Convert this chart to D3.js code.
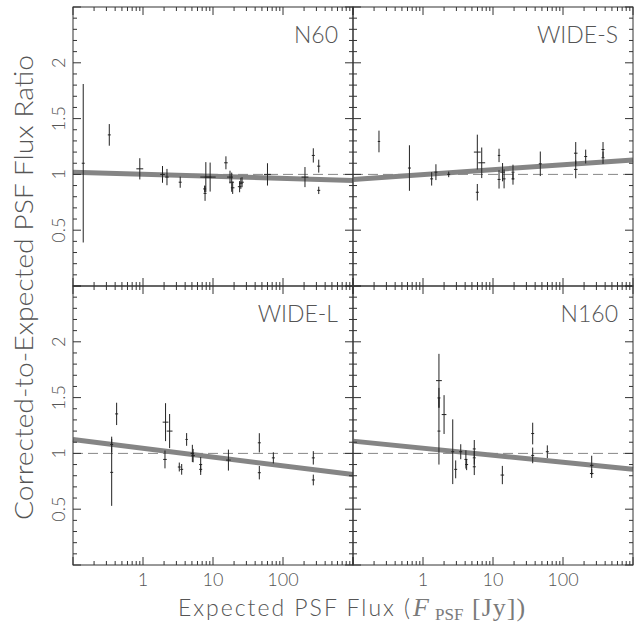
<!DOCTYPE html>
<html><head><meta charset="utf-8">
<script src="https://cdn.jsdelivr.net/npm/d3@7"></script>
<style>body{margin:0;background:#fff;}</style>
</head><body>
<script>
// ---------- data ----------
const panelNames = ["N60", "WIDE-S", "WIDE-L", "N160"];
const xTickLabels = ["1", "10", "100"];
const xTickValues = [1, 10, 100];
const yTickLabels = ["0.5", "1", "1.5", "2"];
const yTickValues = [0.5, 1, 1.5, 2];

const n60Flux  = [0.14, 0.33, 0.9, 1.9, 2.2, 3.4, 7.6, 7.7, 7.9, 9.1, 15.3, 17.5, 18.5, 19.1, 24.0, 25.0, 26.0, 60, 206, 271, 324, 324];
const n60Ratio = [1.10, 1.354, 1.05, 1.0, 0.976, 0.93, 0.87, 0.83, 0.976, 0.976, 1.104, 0.976, 0.93, 0.88, 0.89, 0.92, 0.93, 1.0, 0.976, 1.17, 1.074, 0.857];
const n60Err   = [0.71, 0.097, 0.095, 0.075, 0.073, 0.05, 0.03, 0.067, 0.134, 0.13, 0.058, 0.057, 0.086, 0.055, 0.05, 0.05, 0.045, 0.1, 0.09, 0.064, 0.058, 0.033];
const n60FluxErr = [0.05, 0.05, 0.12, 0.08, 0.06, 0.05, 0.05, 0.05, 0.2, 0.2, 0.06, 0.1, 0.08, 0.06, 0.06, 0.06, 0.06, 0.12, 0.12, 0.05, 0.05, 0.05];

const wsFlux  = [0.235, 0.64, 1.33, 1.53, 2.33, 5.97, 5.97, 6.9, 12.2, 12.2, 13.7, 14.4, 19.3, 19.3, 47.4, 152, 152, 211, 373, 373];
const wsRatio = [1.295, 1.057, 0.96, 1.02, 1.0, 1.2, 0.84, 1.104, 1.17, 0.955, 1.02, 0.96, 1.02, 0.96, 1.095, 1.19, 1.045, 1.16, 1.223, 1.149];
const wsErr   = [0.097, 0.204, 0.06, 0.071, 0.025, 0.156, 0.074, 0.137, 0.06, 0.082, 0.082, 0.085, 0.067, 0.052, 0.11, 0.1, 0.08, 0.062, 0.067, 0.055];
const wsFluxErr = [0.04, 0.05, 0.05, 0.05, 0.05, 0.12, 0.05, 0.12, 0.04, 0.05, 0.08, 0.05, 0.05, 0.05, 0.05, 0.06, 0.06, 0.05, 0.05, 0.05];

const wlFlux  = [0.357, 0.357, 0.42, 2.1, 2.4, 2.06, 3.3, 3.57, 4.2, 5.07, 5.2, 6.67, 6.67, 16.6, 45.9, 45.9, 72.8, 271, 271];
const wlRatio = [1.08, 0.83, 1.354, 1.28, 1.2, 0.946, 0.878, 0.857, 1.125, 1.0, 0.98, 0.9, 0.857, 0.94, 1.095, 0.827, 0.96, 0.96, 0.762];
const wlErr   = [0.07, 0.3, 0.1, 0.17, 0.153, 0.08, 0.04, 0.048, 0.057, 0.077, 0.06, 0.067, 0.05, 0.094, 0.086, 0.06, 0.05, 0.06, 0.048];
const wlFluxErr = [0.05, 0.05, 0.05, 0.1, 0.1, 0.06, 0.05, 0.05, 0.04, 0.06, 0.06, 0.05, 0.05, 0.08, 0.05, 0.05, 0.05, 0.05, 0.05];

const n160Flux  = [1.69, 1.69, 1.69, 2.0, 2.66, 2.93, 3.46, 4.1, 4.2, 5.4, 5.4, 5.4, 13.6, 36.9, 36.9, 59.7, 257, 257];
const n160Ratio = [1.652, 1.497, 1.2, 1.348, 1.015, 0.857, 1.015, 0.946, 0.9, 1.04, 0.96, 0.88, 0.806, 1.178, 0.982, 1.015, 0.893, 0.82];
const n160Err   = [0.24, 0.09, 0.3, 0.174, 0.29, 0.08, 0.067, 0.082, 0.05, 0.08, 0.06, 0.074, 0.082, 0.097, 0.07, 0.057, 0.086, 0.04];
const n160FluxErr = [0.1, 0.05, 0.05, 0.08, 0.05, 0.05, 0.05, 0.05, 0.05, 0.05, 0.05, 0.05, 0.06, 0.05, 0.05, 0.05, 0.06, 0.06];

// fitted relation: ratio at F = 0.1 Jy and at F = 1000 Jy
const fitFlux = [0.1, 1000];
const fitStart = [1.02, 0.955, 1.125, 1.11];
const fitEnd   = [0.946, 1.13, 0.81, 0.857];

// ---------- layout ----------
const W = 641, H = 625;
const L = 73, M = 353, R = 633, T = 7, MY = 286, B = 565;
const panels = [
  {x0: L, x1: M, y0: T, y1: MY, flux: n60Flux, ratio: n60Ratio, err: n60Err, ferr: n60FluxErr},
  {x0: M, x1: R, y0: T, y1: MY, flux: wsFlux, ratio: wsRatio, err: wsErr, ferr: wsFluxErr},
  {x0: L, x1: M, y0: MY, y1: B, flux: wlFlux, ratio: wlRatio, err: wlErr, ferr: wlFluxErr},
  {x0: M, x1: R, y0: MY, y1: B, flux: n160Flux, ratio: n160Ratio, err: n160Err, ferr: n160FluxErr}
];

const svg = d3.select("body").append("svg").attr("width", W).attr("height", H)
  .style("font-family", "Lato, 'Liberation Sans', Arial, sans-serif")
  .style("font-weight", 300);

const textCol = "#555";
const frameCol = "#333";
const serif = "'Liberation Serif', 'DejaVu Serif', serif";

panels.forEach((p, i) => {
  const x = d3.scaleLog().domain([0.1, 1000]).range([p.x0, p.x1]);
  const y = d3.scaleLinear().domain([0, 2.5]).range([p.y1, p.y0]);
  const g = svg.append("g");

  // dashed reference line at 1
  g.append("line").attr("x1", p.x0).attr("x2", p.x1).attr("y1", y(1)).attr("y2", y(1))
    .attr("stroke", "#888").attr("stroke-width", 1).attr("stroke-dasharray", "10,5");

  // fit line
  const line = d3.line().x(d => x(d[0])).y(d => y(d[1]));
  g.append("path").datum([[fitFlux[0], fitStart[i]], [fitFlux[1], fitEnd[i]]])
    .attr("d", line).attr("fill", "none").attr("stroke", "#858585").attr("stroke-width", 5);

  // points with error bars
  const pts = p.flux.map((f, k) => ({f, r: p.ratio[k], e: p.err[k], fe: p.ferr[k]}));
  const pg = g.append("g").attr("stroke", "#222").attr("stroke-width", 1);
  pg.selectAll("line.v").data(pts).join("line").attr("class", "v")
    .attr("x1", d => x(d.f)).attr("x2", d => x(d.f))
    .attr("y1", d => y(d.r - d.e)).attr("y2", d => y(d.r + d.e));
  pg.selectAll("line.h").data(pts).join("line").attr("class", "h")
    .attr("x1", d => x(d.f / (1 + d.fe))).attr("x2", d => x(d.f * (1 + d.fe)))
    .attr("y1", d => y(d.r)).attr("y2", d => y(d.r));

  // frame
  g.append("rect").attr("x", p.x0).attr("y", p.y0).attr("width", p.x1 - p.x0).attr("height", p.y1 - p.y0)
    .attr("fill", "none").attr("stroke", frameCol).attr("stroke-width", 1);

  // x ticks (top & bottom, inward)
  const xt = x.ticks();
  const isMajorX = v => Math.abs(Math.log10(v) - Math.round(Math.log10(v))) < 1e-6;
  const tg = g.append("g").attr("stroke", frameCol).attr("stroke-width", 1);
  xt.forEach(v => {
    const len = isMajorX(v) ? 8 : 4;
    tg.append("line").attr("x1", x(v)).attr("x2", x(v)).attr("y1", p.y1).attr("y2", p.y1 - len);
    tg.append("line").attr("x1", x(v)).attr("x2", x(v)).attr("y1", p.y0).attr("y2", p.y0 + len);
  });
  // y ticks (left & right, inward)
  const yt = d3.range(0, 26).map(k => k / 10);
  yt.forEach((v, k) => {
    const len = (k % 5 === 0) ? 8 : 4;
    tg.append("line").attr("x1", p.x0).attr("x2", p.x0 + len).attr("y1", y(v)).attr("y2", y(v));
    tg.append("line").attr("x1", p.x1).attr("x2", p.x1 - len).attr("y1", y(v)).attr("y2", y(v));
  });

  // panel label
  g.append("text").attr("x", p.x1 - 15).attr("y", p.y0 + 36).attr("text-anchor", "end")
    .attr("font-size", 23).attr("fill", textCol).text(panelNames[i]);

  // y tick labels (left panels)
  if (p.x0 === L) {
    yTickValues.forEach((v, k) => {
      g.append("text").attr("transform", `translate(65,${y(v)}) rotate(-90)`)
        .attr("text-anchor", "middle").attr("font-size", 18).attr("fill", textCol).text(yTickLabels[k]);
    });
  }
  // x tick labels (bottom panels)
  if (p.y1 === B) {
    xTickValues.forEach((v, k) => {
      g.append("text").attr("x", x(v)).attr("y", 586).attr("text-anchor", "middle")
        .attr("font-size", 18).attr("fill", textCol).text(xTickLabels[k]);
    });
  }
});

// y axis title
svg.append("text").attr("transform", `translate(33,${(55 + 520) / 2}) rotate(-90)`)
  .attr("text-anchor", "middle").attr("font-size", 25).attr("fill", textCol)
  .attr("textLength", 465).attr("lengthAdjust", "spacingAndGlyphs")
  .text("Corrected-to-Expected PSF Flux Ratio");

// x axis title
svg.append("text").attr("x", 178).attr("y", 616).attr("font-size", 23).attr("fill", textCol)
  .attr("textLength", 232).attr("lengthAdjust", "spacing")
  .text("Expected PSF Flux (");
const mt = svg.append("text").attr("x", 413).attr("y", 616).attr("fill", "#7a7a7a")
  .style("font-family", serif).style("font-weight", 400);
mt.append("tspan").attr("font-size", 26).attr("font-style", "italic").text("F");
mt.append("tspan").attr("x", 435).attr("y", 620).attr("font-size", 17).text("PSF");
mt.append("tspan").attr("x", 472).attr("y", 616).attr("font-size", 26).attr("letter-spacing", 1).text("[Jy])");
</script>
</body></html>
